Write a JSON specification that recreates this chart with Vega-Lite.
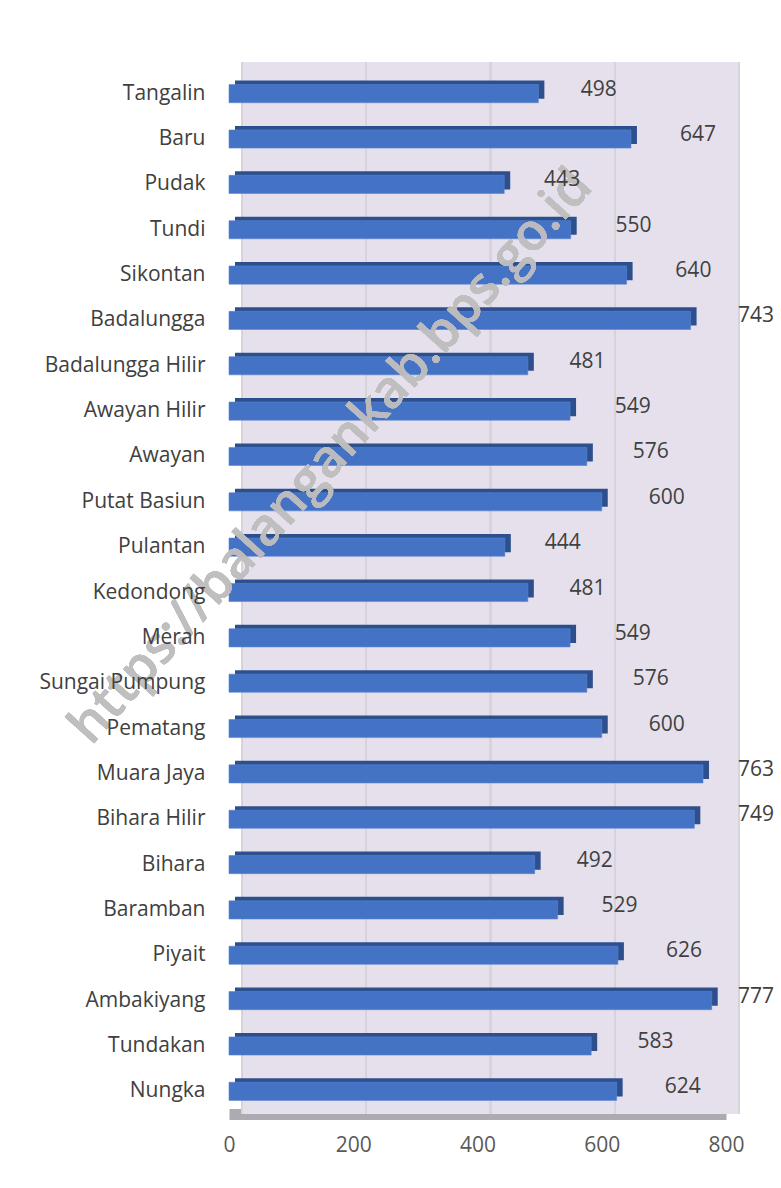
{
  "$schema": "https://vega.github.io/schema/vega-lite/v6.json",
  "autosize": {"type": "none"},
  "width": 497,
  "height": 1043,
  "padding": {"left": 229, "top": 71, "right": 55, "bottom": 74},
  "background": "#ffffff",
  "config": {
    "view": {"stroke": null},
    "font": "Open Sans"
  },
  "data": {
    "values": [
      {"desa": "Tangalin", "nilai": 498},
      {"desa": "Baru", "nilai": 647},
      {"desa": "Pudak", "nilai": 443},
      {"desa": "Tundi", "nilai": 550},
      {"desa": "Sikontan", "nilai": 640},
      {"desa": "Badalungga", "nilai": 743},
      {"desa": "Badalungga Hilir", "nilai": 481},
      {"desa": "Awayan Hilir", "nilai": 549},
      {"desa": "Awayan", "nilai": 576},
      {"desa": "Putat Basiun", "nilai": 600},
      {"desa": "Pulantan", "nilai": 444},
      {"desa": "Kedondong", "nilai": 481},
      {"desa": "Merah", "nilai": 549},
      {"desa": "Sungai Pumpung", "nilai": 576},
      {"desa": "Pematang", "nilai": 600},
      {"desa": "Muara Jaya", "nilai": 763},
      {"desa": "Bihara Hilir", "nilai": 749},
      {"desa": "Bihara", "nilai": 492},
      {"desa": "Baramban", "nilai": 529},
      {"desa": "Piyait", "nilai": 626},
      {"desa": "Ambakiyang", "nilai": 777},
      {"desa": "Tundakan", "nilai": 583},
      {"desa": "Nungka", "nilai": 624}
    ]
  },
  "resolve": {"scale": {"x": "independent"}},
  "layer": [
    {
      "encoding": {
        "y": {
          "field": "desa",
          "type": "nominal",
          "sort": null,
          "scale": {"paddingInner": 0.6, "paddingOuter": 0.3},
          "axis": {
            "title": null,
            "domain": false,
            "ticks": false,
            "zindex": 1,
            "labelPadding": 24,
            "labelFontSize": 21,
            "labelColor": "#404040",
            "labelFont": "Open Sans"
          }
        }
      },
      "layer": [
        {
          "mark": {"type": "rect", "color": "#E6E0EC", "xOffset": 13, "x2Offset": 13, "yOffset": -9, "y2Offset": -9},
          "encoding": {
            "x": {"datum": 0, "type": "quantitative", "scale": {"domain": [0, 800], "nice": false},
              "axis": {
                "title": null,
                "values": [0, 200, 400, 600, 800],
                "grid": false,
                "ticks": false,
                "labelFlush": false,
                "domainColor": "#AEAAB2",
                "domainWidth": 11,
                "labelPadding": 20,
                "labelFontSize": 21,
                "labelColor": "#595959",
                "labelFont": "Open Sans"
              }},
            "x2": {"datum": 800},
            "y": null
          }
        },
        {
          "mark": {"type": "rule", "color": "#D6D3D9", "strokeWidth": 1.5, "xOffset": 13, "yOffset": -9, "y2Offset": -9},
          "encoding": {"x": {"datum": 200, "type": "quantitative"}, "y": null}
        },
        {
          "mark": {"type": "rule", "color": "#D6D3D9", "strokeWidth": 1.5, "xOffset": 13, "yOffset": -9, "y2Offset": -9},
          "encoding": {"x": {"datum": 400, "type": "quantitative"}, "y": null}
        },
        {
          "mark": {"type": "rule", "color": "#D6D3D9", "strokeWidth": 1.5, "xOffset": 13, "yOffset": -9, "y2Offset": -9},
          "encoding": {"x": {"datum": 600, "type": "quantitative"}, "y": null}
        },
        {
          "mark": {"type": "rule", "color": "#D6D3D9", "strokeWidth": 1.5, "xOffset": 13, "yOffset": -9, "y2Offset": -9},
          "encoding": {"x": {"datum": 800, "type": "quantitative"}, "y": null}
        },
        {
          "mark": {"type": "rule", "color": "#D6D3D9", "strokeWidth": 1.5, "xOffset": 13, "yOffset": -9, "y2Offset": -9},
          "encoding": {"x": {"datum": 0, "type": "quantitative"}, "y": null}
        },
        {
          "mark": {"type": "bar", "color": "#2D4F8E", "xOffset": 6, "x2Offset": 6, "yOffset": -4, "y2Offset": -4},
          "encoding": {
            "x": {"field": "nilai", "type": "quantitative"}
          }
        },
        {
          "mark": {"type": "bar", "color": "#4472C4", "stroke": "#5A86D2", "strokeWidth": 0.6},
          "encoding": {
            "x": {"field": "nilai", "type": "quantitative"}
          }
        },
        {
          "mark": {"type": "text", "text": "https://balangankab.bps.go.id", "angle": 312, "fontSize": 52, "fontWeight": 600, "font": "Open Sans", "color": "#BFBFBF", "opacity": 0.22, "align": "center", "baseline": "middle"},
          "encoding": {
            "x": {"datum": 164, "type": "quantitative"},
            "y": {"datum": "Awayan", "type": "nominal"}
          }
        }
      ]
    },
    {
      "mark": {"type": "text", "fontSize": 21, "color": "#404040", "font": "Open Sans", "align": "center", "baseline": "middle", "dy": -4},
      "encoding": {
        "y": {"field": "desa", "type": "nominal", "sort": null},
        "x": {"field": "nilai", "type": "quantitative", "scale": {"domain": [0, 734], "range": [38, 527], "clamp": true, "nice": false, "zero": false}, "axis": null},
        "text": {"field": "nilai", "type": "quantitative"}
      }
    }
  ]
}
